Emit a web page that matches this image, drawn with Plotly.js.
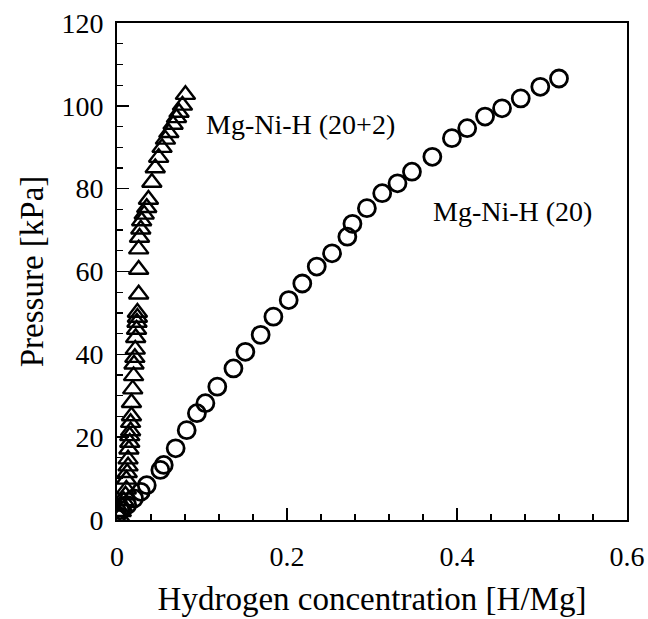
<!DOCTYPE html>
<html>
<head>
<meta charset="utf-8">
<script src="https://cdn.plot.ly/plotly-3.0.1.min.js"></script>
<style>html,body{margin:0;padding:0;background:#fff;}#chart{width:648px;height:619px;}</style>
</head>
<body>
<div id="chart"></div>
<script>
// Mg-Ni-H (20+2): triangles
const triX = [0.003,0.005,0.006,0.008,0.010,0.011,0.011,0.012,0.013,0.013,0.014,0.015,0.015,0.016,0.016,0.017,0.017,0.0185,0.0195,0.020,0.021,0.0215,0.022,0.023,0.0235,0.024,0.024,0.0255,0.0255,0.0255,0.0265,0.028,0.029,0.032,0.035,0.037,0.041,0.045,0.049,0.053,0.057,0.061,0.066,0.070,0.073,0.077,0.0805];
const triY = [0.8,2.0,3.3,4.6,6.0,7.4,9.8,11.4,13.0,14.7,17.1,18.7,20.3,21.5,23.5,25.1,28.3,31.6,34.8,37.6,39.2,41.2,44.0,46.0,47.7,48.9,50.1,54.5,60.5,65.4,68.2,70.2,72.2,73.8,75.4,77.4,81.5,85.0,87.5,89.9,91.9,93.5,95.5,97.1,98.4,100.1,102.7];
// Mg-Ni-H (20): circles
const cirX = [0.0,0.004,0.012,0.020,0.028,0.035,0.051,0.055,0.069,0.082,0.094,0.104,0.118,0.137,0.151,0.169,0.184,0.202,0.218,0.235,0.253,0.271,0.277,0.294,0.312,0.330,0.347,0.371,0.394,0.412,0.433,0.453,0.475,0.498,0.520];
const cirY = [1.2,2.4,3.6,5.2,6.8,8.4,12.1,13.3,17.3,21.7,25.8,28.2,32.2,36.6,40.6,44.7,49.1,53.1,57.1,61.2,64.4,68.4,71.5,75.3,78.9,81.3,84.1,87.7,92.2,94.6,97.4,99.4,101.8,104.6,106.6];
const seriesNames = ['Mg-Ni-H (20+2)','Mg-Ni-H (20)'];
const labelPos = [[0.216,95.4],[0.465,74.4]];

const font = 'Liberation Serif, Times New Roman, serif';
const traces = [
  {x: triX, y: triY, mode: 'markers', type: 'scatter', name: seriesNames[0],
   marker: {symbol: 'triangle-up-open', size: 17, color: '#000', line: {width: 2.4, color: '#000'}}},
  {x: cirX, y: cirY, mode: 'markers', type: 'scatter', name: seriesNames[1],
   marker: {symbol: 'circle-open', size: 17, color: '#000', line: {width: 2.8, color: '#000'}}}
];
const axisCommon = {
  showgrid: false, zeroline: false, showline: true, linecolor: '#000', linewidth: 2,
  mirror: true, ticks: 'inside', ticklen: 12, tickwidth: 1.5, tickcolor: '#000',
  tickfont: {family: font, size: 28, color: '#000'}
};
const layout = {
  width: 648, height: 619,
  margin: {l: 117, r: 21, t: 23, b: 99},
  paper_bgcolor: '#fff', plot_bgcolor: '#fff',
  showlegend: false,
  xaxis: Object.assign({}, axisCommon, {
    range: [0, 0.6], tickvals: [0, 0.2, 0.4, 0.6], ticktext: ['0','0.2','0.4','0.6'],
    ticklabelstandoff: 10,
    minor: {dtick: 0.04, tick0: 0, ticks: 'inside', ticklen: 6, tickwidth: 1.2, tickcolor: '#000'},
    title: {text: 'Hydrogen concentration [H/Mg]', font: {family: font, size: 33, color: '#000'}, standoff: 16}
  }),
  yaxis: Object.assign({}, axisCommon, {
    range: [0, 120], dtick: 20, tick0: 0,
    ticklabelstandoff: 6,
    minor: {dtick: 5, tick0: 0, ticks: 'inside', ticklen: 6, tickwidth: 1.2, tickcolor: '#000'},
    title: {text: 'Pressure [kPa]', font: {family: font, size: 33, color: '#000'}, standoff: 8}
  }),
  annotations: seriesNames.map((n, i) => ({
    x: labelPos[i][0], y: labelPos[i][1], xref: 'x', yref: 'y', text: n, showarrow: false,
    font: {family: font, size: 28, color: '#000'}, xanchor: 'center', yanchor: 'middle'
  }))
};
Plotly.newPlot('chart', traces, layout, {displayModeBar: false, staticPlot: true});
</script>
</body>
</html>
